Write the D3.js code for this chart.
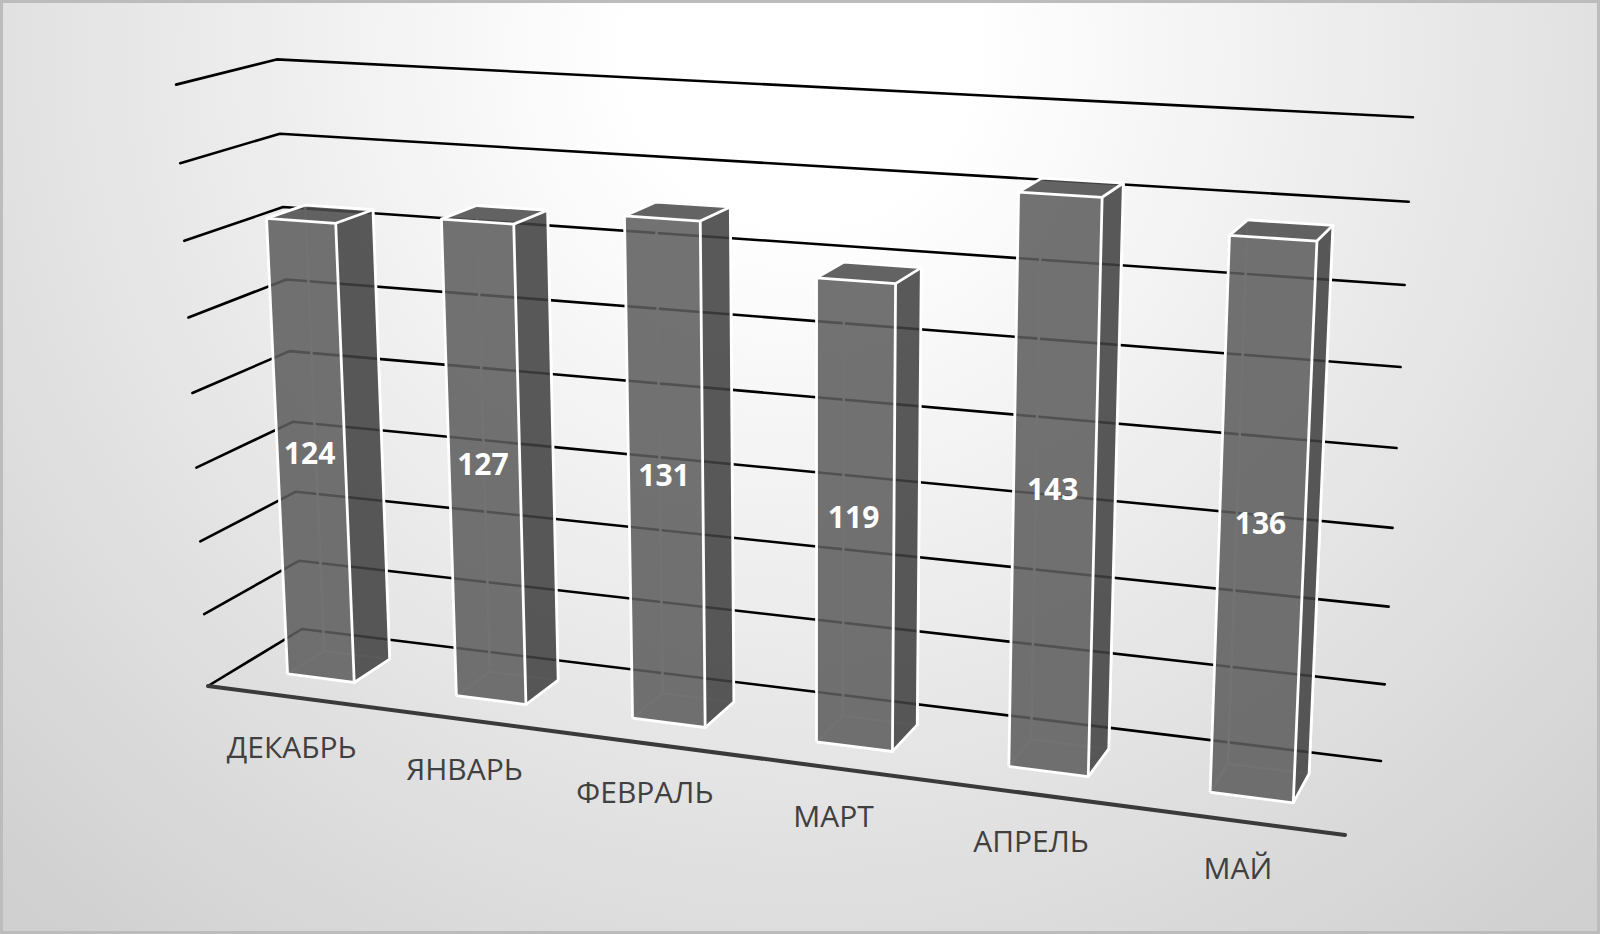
<!DOCTYPE html>
<html><head><meta charset="utf-8">
<script src="https://cdn.jsdelivr.net/npm/d3@7/dist/d3.min.js"></script>
<style>html,body{margin:0;padding:0;background:#fff}svg{display:block}</style>
</head><body><svg id="c" width="1600" height="934"></svg>
<script>
const categories = ["ДЕКАБРЬ","ЯНВАРЬ","ФЕВРАЛЬ","МАРТ","АПРЕЛЬ","МАЙ"];
const values = [124,127,131,119,143,136];
const gridTicks = [0,20,40,60,80,100,120,140,160];

const W = 1600, H = 934;
const svg = d3.select("#c");
const defs = svg.append("defs");
const g = defs.append("radialGradient").attr("id","bg").attr("gradientUnits","userSpaceOnUse")
  .attr("cx",800).attr("cy",50).attr("r",1150);
g.append("stop").attr("offset",0).attr("stop-color","#ffffff");
g.append("stop").attr("offset",.15).attr("stop-color","#ffffff");
g.append("stop").attr("offset",1).attr("stop-color","#d0d0d0");
svg.append("rect").attr("width",W).attr("height",H).attr("fill","url(#bg)");
svg.append("rect").attr("x",1.5).attr("y",1.5).attr("width",W-3).attr("height",H-3)
  .attr("fill","none").attr("stroke","#bcbcbc").attr("stroke-width",3);

// Scales in normalised chart-box space
const xBand = d3.scaleBand().domain(categories).range([0,1]).paddingInner(.6).paddingOuter(.3);
const yVal = d3.scaleLinear().domain([0,160]).range([0,.999]);
const depthFront = .31, depthBack = .71;

// Perspective projection of the chart box
const O=[208,686], U=[1345,835], V=[176,84], D=[302,629];
const p=-.1263, q=-.05, r=.058;
const a=[U[0]*(1+p)-O[0],U[1]*(1+p)-O[1]];
const b=[V[0]*(1+q)-O[0],V[1]*(1+q)-O[1]];
const c=[D[0]*(1+r)-O[0],D[1]*(1+r)-O[1]];
function proj(u,v,w){
  const d=1+p*u+q*v+r*w;
  return [(O[0]+u*a[0]+v*b[0]+w*c[0])/d,(O[1]+u*a[1]+v*b[1]+w*c[1])/d];
}
const line=d3.line();

// grid
const grid=svg.append("g");
gridTicks.forEach(t=>{
  const v=yVal(t);
  grid.append("path").attr("d",line([proj(0,v,0),proj(0,v,1),proj(1,v,1)]))
    .attr("fill","none").attr("stroke","#000").attr("stroke-width",2.6).attr("stroke-linecap","round").attr("stroke-linejoin","round");
});
svg.append("path").attr("d",line([proj(0,0,0),proj(1,0,0)]))
  .attr("stroke","#3a3a3a").attr("stroke-width",4).attr("stroke-linecap","round").attr("fill","none");

// bars
const bars=svg.append("g");
categories.forEach((cat,i)=>{
  const u0=xBand(cat),u1=u0+xBand.bandwidth(),v=yVal(values[i]);
  const P=proj;
  const f0=depthFront,f1=depthBack;
  const gb=bars.append("g");
  // hidden edges
  [[P(u0,0,f1),P(u1,0,f1)],[P(u0,0,f0),P(u0,0,f1)],[P(u0,0,f1),P(u0,v,f1)],[P(u1,0,f1),P(u1,v,f1)]].forEach(s=>{
    gb.append("path").attr("d",line(s)).attr("stroke","#fff").attr("stroke-width",2.4).attr("fill","none");
  });
  const face=(pts,fill)=>gb.append("path").attr("d",line(pts)+"Z").attr("fill",fill);
  face([P(u1,0,f0),P(u1,0,f1),P(u1,v,f1),P(u1,v,f0)],"rgba(64,64,64,.87)");
  face([P(u0,v,f0),P(u1,v,f0),P(u1,v,f1),P(u0,v,f1)],"rgba(76,76,76,.87)");
  face([P(u0,0,f0),P(u1,0,f0),P(u1,v,f0),P(u0,v,f0)],"rgba(93,93,93,.87)");
  const edges=[[P(u0,0,f0),P(u1,0,f0),P(u1,v,f0),P(u0,v,f0),P(u0,0,f0)],
    [P(u1,0,f0),P(u1,0,f1),P(u1,v,f1),P(u0,v,f1),P(u0,v,f0)],[P(u1,v,f0),P(u1,v,f1)]];
  edges.forEach(s=>gb.append("path").attr("d",line(s)).attr("fill","none").attr("stroke","#fff").attr("stroke-width",2.8).attr("stroke-linejoin","round"));
  const m=P(u0+xBand.bandwidth()/2,v/2,f0);
  gb.append("text").attr("x",m[0]-1.5).attr("y",m[1]-2).attr("text-anchor","middle").attr("dominant-baseline","central")
    .attr("font-family","'Open Sans'").attr("font-weight",700).attr("font-size",30).attr("fill","#fff").text(values[i]);
  const uc=u0+xBand.bandwidth()/2, l=P(uc,0,0);
  svg.append("text").attr("x",l[0]).attr("y",l[1]+50-4*uc).attr("text-anchor","middle").attr("dominant-baseline","central")
    .attr("font-family","'Open Sans'").attr("font-size",30).attr("fill","#404040").text(cat);
});
</script></body></html>
